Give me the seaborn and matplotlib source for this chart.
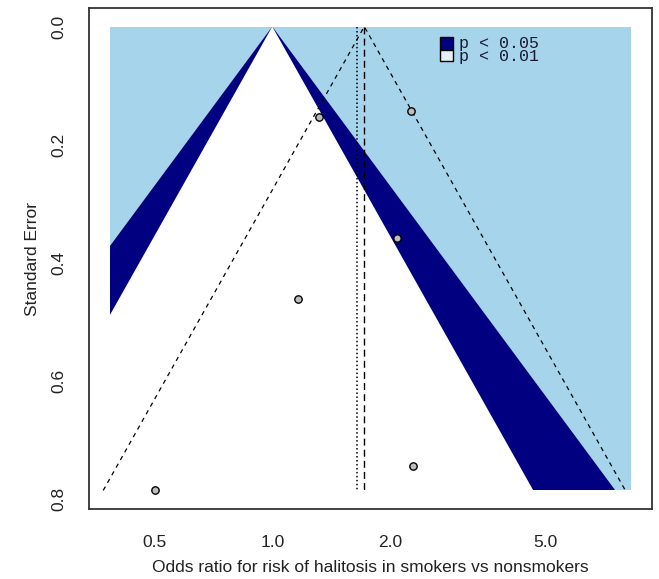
import numpy as np
import pandas as pd
import matplotlib
matplotlib.use("Agg")
import matplotlib.pyplot as plt
import seaborn as sns
from matplotlib.patches import Polygon, Rectangle
from statistics import NormalDist

# ---------------- data ----------------
study_or = [0.50, 2.29, 1.165, 2.08, 1.32, 2.27]
study_se = [0.785, 0.744, 0.4615, 0.357, 0.153, 0.1425]
common_or = 1.72   # common-effect estimate (dashed line)
random_or = 1.65   # random-effects estimate (dotted line)
contour_levels = [0.95, 0.99]
contour_labels = ["p < 0.05", "p < 0.01"]
contour_range_or = [0.384, 8.29]
xticks = [0.5, 1.0, 2.0, 5.0]
xtick_labels = ["0.5", "1.0", "2.0", "5.0"]
yticks = [0.0, 0.2, 0.4, 0.6, 0.8]
ytick_labels = ["0.0", "0.2", "0.4", "0.6", "0.8"]
xlabel = "Odds ratio for risk of halitosis in smokers vs nonsmokers"
ylabel = "Standard Error"

col_light = "#a6d4ea"
col_navy = "#000080"
col_legend2 = "#e4eff6"

# ---------------- figure ----------------
sns.set_style("white")
plt.rcParams["font.family"] = ["Liberation Sans", "DejaVu Sans"]

W, H = 659, 579
fig = plt.figure(figsize=(W / 100, H / 100), dpi=100)
ax = fig.add_axes([89 / W, 1 - 509 / H, 563 / W, 501 / H])
ax.set_xscale("log")

df = pd.DataFrame({"or": study_or, "se": study_se})
maxse = df["se"].max()
lx0, lx1 = np.log(contour_range_or)
pad = 0.04 * (lx1 - lx0)
ax.set_xlim(np.exp(lx0 - pad), np.exp(lx1 + pad))
ax.set_ylim(maxse * 1.04, -0.04 * maxse)

z_lo = NormalDist().inv_cdf(1 - (1 - contour_levels[0]) / 2)
z_hi = NormalDist().inv_cdf(1 - (1 - contour_levels[1]) / 2)

# contour regions
rect = Rectangle((contour_range_or[0], 0), contour_range_or[1] - contour_range_or[0], maxse,
                 facecolor=col_light, edgecolor="none", zorder=1)
ax.add_patch(rect)
navy = Polygon([(np.exp(-z_hi * maxse), maxse), (1.0, 0.0), (np.exp(z_hi * maxse), maxse)],
               closed=True, facecolor=col_navy, edgecolor="none", zorder=2)
ax.add_patch(navy)
navy.set_clip_path(rect)
white = Polygon([(np.exp(-z_lo * maxse), maxse), (1.0, 0.0), (np.exp(z_lo * maxse), maxse)],
                closed=True, facecolor="white", edgecolor="none", zorder=3)
ax.add_patch(white)
white.set_clip_path(rect)

# pseudo confidence funnel around the common-effect estimate
lc = np.log(common_or)
ax.plot([np.exp(lc - z_lo * maxse), common_or, np.exp(lc + z_lo * maxse)], [maxse, 0, maxse],
        color="black", lw=0.9, ls=(0, (3.5, 3.5)), zorder=4)
ax.plot([common_or, common_or], [0, maxse], color="black", lw=1.0, ls=(0, (5, 3)), zorder=4)
ax.plot([random_or, random_or], [0, maxse], color="black", lw=1.1, ls=(0, (1, 1.6)), zorder=4)

# study points
sns.scatterplot(data=df, x="or", y="se", ax=ax, color="#bdbdbd", edgecolor="black",
                s=28, linewidth=1.0, zorder=5, legend=False)

# axes styling
ax.set_xticks(xticks)
ax.set_xticklabels(xtick_labels)
ax.minorticks_off()
ax.set_yticks(yticks)
ax.set_yticklabels(ytick_labels, rotation=90, va="center")
ax.tick_params(axis="both", direction="out", length=8.6, width=1.0, color="black",
               labelsize=12.5, labelcolor="#222222")
ax.tick_params(axis="x", pad=10)
ax.tick_params(axis="y", pad=8)
for s in ax.spines.values():
    s.set_visible(True)
    s.set_color("#333333")
    s.set_linewidth(1.3)
ax.set_xlabel(xlabel, fontsize=12.5, labelpad=7, color="#222222")
ax.set_ylabel(ylabel, fontsize=12.5, labelpad=8, color="#222222")
ax.grid(False)

# legend (drawn manually like the original, tightly stacked lines)
tr = ax.transAxes
ax.add_patch(Rectangle((0.6234, 0.916), 0.0231, 0.026, transform=tr, facecolor=col_navy,
                       edgecolor="black", lw=1.0, zorder=6))
ax.add_patch(Rectangle((0.6234, 0.894), 0.0231, 0.022, transform=tr, facecolor=col_legend2,
                       edgecolor="black", lw=1.0, zorder=6))
ax.text(0.657, 1 - (36 - 8) / 501, "\n".join(contour_labels), transform=tr,
        family=["Liberation Mono", "DejaVu Sans Mono"], fontsize=12, va="top", ha="left",
        linespacing=0.85, color="#1a1a33", zorder=7)

fig.savefig("out.png", dpi=100)
